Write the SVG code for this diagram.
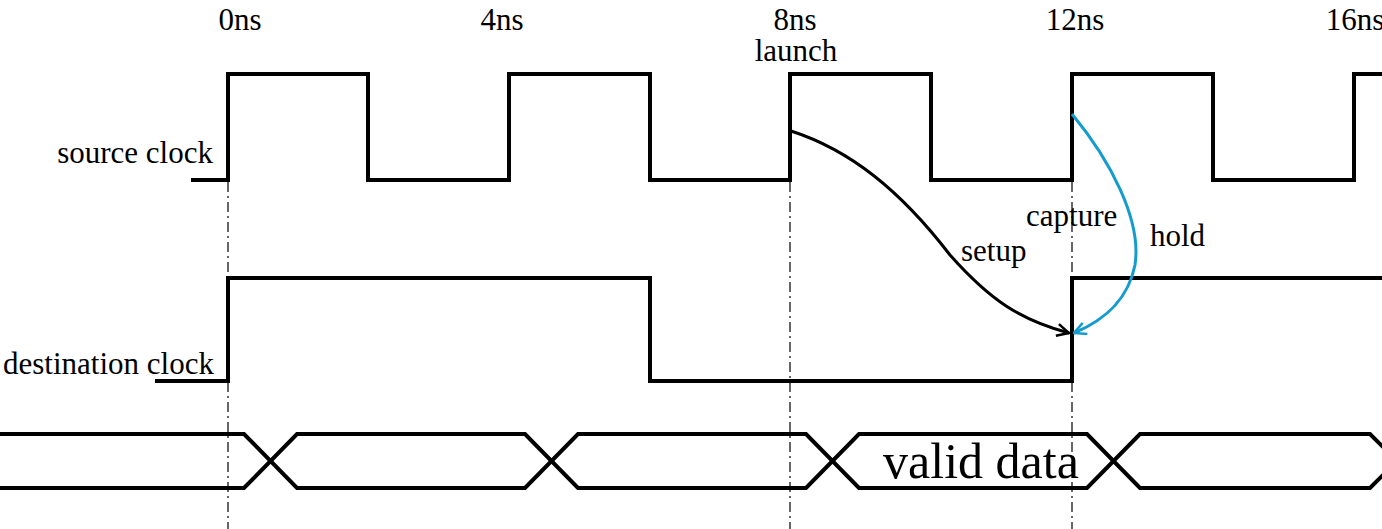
<svg xmlns="http://www.w3.org/2000/svg" width="1382" height="529" viewBox="0 0 1382 529">
<defs>
<style>
.w{fill:none;stroke:#000;stroke-width:4;stroke-linejoin:miter}
.g{fill:none;stroke:#000;stroke-width:1.2;stroke-dasharray:10 4 2 4}
.t{font-family:"Liberation Serif",serif;font-size:31px;fill:#000}
.big{font-family:"Liberation Serif",serif;font-size:50px;fill:#000}
</style>
<marker id="ak" viewBox="0 0 14 14" refX="13" refY="7" markerWidth="14" markerHeight="14" markerUnits="userSpaceOnUse" orient="auto"><path d="M1,1 L13,7 L1,13" fill="none" stroke="#000" stroke-width="2.5"/></marker>
<marker id="ab" viewBox="0 0 14 14" refX="13" refY="7" markerWidth="14" markerHeight="14" markerUnits="userSpaceOnUse" orient="auto"><path d="M1,1 L13,7 L1,13" fill="none" stroke="#159ccf" stroke-width="2.5"/></marker>
</defs>
<rect width="1382" height="529" fill="#fff"/>
<g id="guides">
<line class="g" x1="228" y1="182" x2="228" y2="529"/>
<line class="g" x1="790" y1="182" x2="790" y2="529"/>
<line class="g" x1="1072" y1="182" x2="1072" y2="529"/>
</g>
<g id="time-labels">
<text class="t" x="240" y="30" text-anchor="middle">0ns</text>
<text class="t" x="502" y="30" text-anchor="middle">4ns</text>
<text class="t" x="795" y="30" text-anchor="middle">8ns</text>
<text class="t" x="1075" y="30" text-anchor="middle">12ns</text>
<text class="t" x="1355" y="30" text-anchor="middle">16ns</text>
<text class="t" x="796" y="61" text-anchor="middle">launch</text>
</g>
<g id="source-clock">
<text class="t" x="213" y="163" text-anchor="end">source clock</text>
<path class="w" d="M191,180 H228 V74 H368 V180 H509 V74 H650 V180 H790 V74 H931 V180 H1072 V74 H1213 V180 H1354 V74 H1384"/>
</g>
<g id="destination-clock">
<text class="t" x="3" y="374">destination clock</text>
<path class="w" d="M155,381 H228 V278 H650 V381 H1072 V278 H1384"/>
</g>
<g id="data-bus">
<path class="w" d="M-2,434 H244 L297,488 H525 L578,434 H806 L859,488 H1087 L1140,434 H1370 L1397,461"/>
<path class="w" d="M-2,488 H244 L297,434 H525 L578,488 H806 L859,434 H1087 L1140,488 H1370 L1397,461"/>
<text class="big" x="981" y="478" text-anchor="middle">valid data</text>
</g>
<g id="connectors">
<path d="M791,131 C850,150 900,190 950,255 C990,300 1020,320 1069,333" fill="none" stroke="#000" stroke-width="3" marker-end="url(#ak)"/>
<path d="M1072,114 C1110,160 1142,220 1135,265 C1128,300 1105,320 1074,333" fill="none" stroke="#159ccf" stroke-width="3" marker-end="url(#ab)"/>
<text class="t" x="961" y="261">setup</text>
<text class="t" x="1026" y="226">capture</text>
<text class="t" x="1150" y="246">hold</text>
</g>
</svg>
